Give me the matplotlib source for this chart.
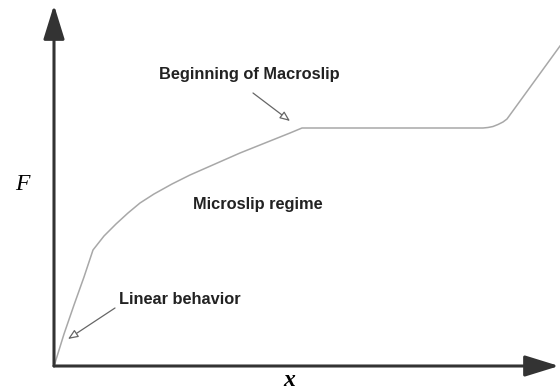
import matplotlib.pyplot as plt

# curva F(x) (unidades arbitrarias, origen en la esquina de los ejes)
x_vals = [1, 10, 20, 30, 39, 50, 62, 74, 86, 100, 118, 136, 161, 186, 211, 236, 248,
          429, 434, 439, 444, 449, 453, 506]
F_vals = [3, 32, 61, 89, 116, 130, 142, 153, 163, 172, 182, 191, 202, 213, 223, 233, 238,
          238, 238.5, 239.5, 241.5, 244, 247, 320]

etiquetas = ["Beginning of Macroslip", "Microslip regime", "Linear behavior"]
pos_etiquetas = [(195, 292), (204, 161), (126, 66)]
# flechas de las anotaciones: (punta, cola)
flechas = [((236, 245), (199, 273)), None, ((14, 27), (61, 58))]

fig = plt.figure(figsize=(5.6, 3.91), dpi=100)
ax = fig.add_axes([0, 0, 1, 1])
ax.set_xlim(-54, 506)
ax.set_ylim(-25, 366)
ax.axis('off')

# ejes con flecha
eje = dict(arrowstyle='-|>,head_length=21,head_width=6.5', mutation_scale=1,
           lw=2.2, color='#333333', shrinkA=0, shrinkB=0)
ax.annotate('', xy=(0, 361), xytext=(0, 0), arrowprops=eje)
ax.annotate('', xy=(505, 0), xytext=(0, 0), arrowprops=eje)

# curva
ax.plot(x_vals, F_vals, color='#a8a8a8', lw=1.1, solid_joinstyle='round')

# textos
for txt, (tx, ty), fl in zip(etiquetas, pos_etiquetas, flechas):
    ax.text(tx, ty, txt, ha='center', va='center', fontsize=11.8,
            fontweight='bold', family='Liberation Sans', color='#222222')
    if fl is not None:
        ax.annotate('', xy=fl[0], xytext=fl[1],
                    arrowprops=dict(arrowstyle='-|>,head_length=6,head_width=2.5',
                                    mutation_scale=1, lw=0.9, ec='#666666',
                                    fc='white', shrinkA=0, shrinkB=0))

ax.text(-32, 182, 'F', fontsize=17, style='italic', family='Liberation Serif',
        ha='center', va='center')
ax.text(235, -14, 'x', fontsize=17, style='italic', fontweight='bold',
        family='Liberation Serif', ha='center', va='center')

fig.savefig('out.png', dpi=100)
